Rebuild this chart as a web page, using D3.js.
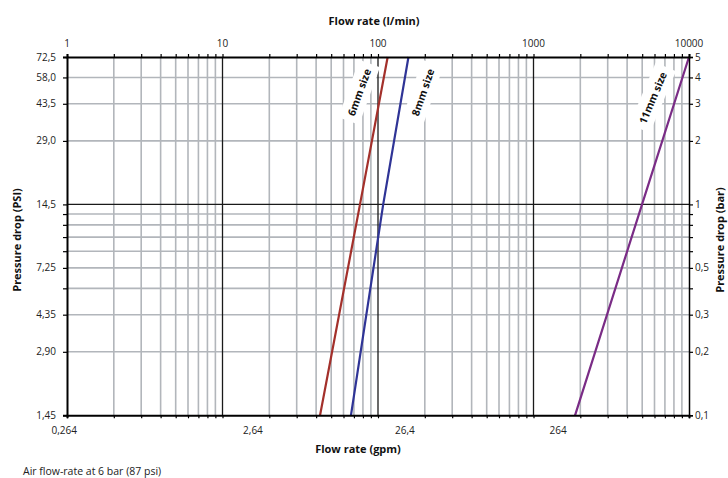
<!DOCTYPE html>
<html><head><meta charset="utf-8">
<script src="https://cdn.jsdelivr.net/npm/d3@7"></script>
<style>
html,body{margin:0;padding:0;background:#fff;}
svg{display:block;font-family:"Open Sans","Noto Sans",sans-serif;}
</style></head>
<body>
<svg id="chart" width="728" height="478"></svg>
<script>
// ---- data ----
const flowDecades = [1, 10, 100, 1000, 10000];          // l/min (top axis)
const flowDecadeLabels = ["1", "10", "100", "1000", "10000"];
const gpmLabelAt = [0.96, 15.7, 149, 1440];             // l/min where gpm labels sit
const gpmLabels = ["0,264", "2,64", "26,4", "264"];
const barTicks = [5, 4, 3, 2, 1, 0.5, 0.3, 0.2, 0.1];
const barLabels = ["5", "4", "3", "2", "1", "0,5", "0,3", "0,2", "0,1"];
const psiLabels = ["72,5", "58,0", "43,5", "29,0", "14,5", "7,25", "4,35", "2,90", "1,45"];
const barGrid = [4, 3, 2, 0.9, 0.8, 0.7, 0.6, 0.5, 0.4, 0.3, 0.2];
const seriesNames = ["6mm size", "8mm size", "11mm size"];
const seriesPressure = [0.1, 1, 5];                     // bar
const flow6mm = [42.4, 76.6, 115.4];                    // l/min
const flow8mm = [67, 108, 157];
const flow11mm = [1850, 4990, 10000];
const labelFlow = [76, 195, 5870];                      // label anchors (l/min)
const labelBar = [3.4, 3.4, 3.2];                       // label anchors (bar)
const labelAngle = [-70, -71, -67];
const seriesColors = ["#a3302b", "#2f3496", "#7a2c86"];

// ---- layout ----
const svg = d3.select("#chart");
const x = d3.scaleLog().domain([1, 10000]).range([67, 689]);
const y = d3.scaleLog().domain([0.1, 5]).range([415.3, 57]);
const gray = "#b2b6bb";

const minorX = [];
for (let d = 1; d < 10000; d *= 10) for (let m = 2; m <= 9; m++) minorX.push(d * m);

const grid = svg.append("g");
grid.selectAll(".vx").data(minorX).enter().append("line")
  .attr("x1", d => x(d)).attr("x2", d => x(d))
  .attr("y1", y(5)).attr("y2", y(0.1))
  .attr("stroke", gray).attr("stroke-width", 1.6);
grid.selectAll(".hy").data(barGrid).enter().append("line")
  .attr("x1", x(1)).attr("x2", x(10000))
  .attr("y1", d => y(d)).attr("y2", d => y(d))
  .attr("stroke", gray).attr("stroke-width", 1.6);

grid.selectAll(".dx").data([10, 100, 1000]).enter().append("line")
  .attr("x1", d => x(d)).attr("x2", d => x(d))
  .attr("y1", y(5)).attr("y2", y(0.1))
  .attr("stroke", "#1a1a1a").attr("stroke-width", 1.3);
grid.append("line")
  .attr("x1", x(1)).attr("x2", x(10000))
  .attr("y1", y(1)).attr("y2", y(1))
  .attr("stroke", "#1a1a1a").attr("stroke-width", 1.3);

// label backgrounds + labels
const labG = svg.append("g");
seriesNames.forEach((name, i) => {
  const g = labG.append("g")
    .attr("transform", `translate(${x(labelFlow[i])},${y(labelBar[i])}) rotate(${labelAngle[i]})`);
  const t = g.append("text")
    .attr("text-anchor", "middle").attr("dy", "0.35em")
    .attr("font-size", 10.5).attr("font-weight", "bold")
    .attr("fill", "#111").text(name);
  const bb = t.node().getBBox();
  g.insert("rect", "text")
    .attr("x", bb.x - 6).attr("y", bb.y - 4)
    .attr("width", bb.width + 12).attr("height", bb.height + 8)
    .attr("fill", "#fff");
});

// series lines
const line = d3.line().x(d => x(d[0])).y(d => y(d[1]));
[flow6mm, flow8mm, flow11mm].forEach((fl, i) => {
  svg.append("path")
    .datum(fl.map((f, j) => [f, seriesPressure[j]]))
    .attr("d", line).attr("fill", "none")
    .attr("stroke", seriesColors[i]).attr("stroke-width", 2.2);
});

// axes
const allX = flowDecades.concat(minorX).sort((a, b) => a - b);
const allY = barTicks.concat([0.9, 0.8, 0.7, 0.6, 0.4]);
function styleAxis(g, w) {
  g.select(".domain").attr("stroke", "#000").attr("stroke-width", w);
  g.selectAll(".tick line").attr("stroke", "#000").attr("stroke-width", 1.2);
}
svg.append("g").attr("transform", `translate(0,${y(5)})`)
  .call(d3.axisTop(x).tickValues(allX).tickSize(3).tickFormat("")).call(g => styleAxis(g, 2));
svg.append("g").attr("transform", `translate(0,${y(0.1)})`)
  .call(d3.axisBottom(x).tickValues(allX).tickSize(3).tickFormat("")).call(g => styleAxis(g, 2));
svg.append("g").attr("transform", `translate(${x(1)},0)`)
  .call(d3.axisLeft(y).tickValues(allY).tickSize(4).tickFormat("")).call(g => styleAxis(g, 2));
svg.append("g").attr("transform", `translate(${x(10000)},0)`)
  .call(d3.axisRight(y).tickValues(allY).tickSize(4).tickFormat("")).call(g => styleAxis(g, 1.5));

// tick labels
const tf = 10;
svg.append("g").selectAll("text").data(flowDecades).enter().append("text")
  .attr("x", d => x(d)).attr("y", 47).attr("text-anchor", "middle")
  .attr("font-size", tf).attr("fill", "#222").text((d, i) => flowDecadeLabels[i]);
svg.append("g").selectAll("text").data(gpmLabelAt).enter().append("text")
  .attr("x", d => x(d)).attr("y", 434).attr("text-anchor", "middle")
  .attr("font-size", tf).attr("fill", "#222").text((d, i) => gpmLabels[i]);
svg.append("g").selectAll("text").data(barTicks).enter().append("text")
  .attr("x", 56).attr("y", d => y(d)).attr("dy", "0.35em").attr("text-anchor", "end")
  .attr("font-size", tf).attr("fill", "#222").text((d, i) => psiLabels[i]);
svg.append("g").selectAll("text").data(barTicks).enter().append("text")
  .attr("x", 695).attr("y", d => y(d)).attr("dy", "0.35em").attr("text-anchor", "start")
  .attr("font-size", tf).attr("fill", "#222").text((d, i) => barLabels[i]);

// titles
svg.append("text").attr("x", 374).attr("y", 25).attr("text-anchor", "middle")
  .attr("font-size", 11).attr("font-weight", "bold").attr("fill", "#111").text("Flow rate (l/min)");
svg.append("text").attr("x", 358).attr("y", 453).attr("text-anchor", "middle")
  .attr("font-size", 11).attr("font-weight", "bold").attr("fill", "#111").text("Flow rate (gpm)");
svg.append("text").attr("transform", "translate(21,240) rotate(-90)").attr("text-anchor", "middle")
  .attr("font-size", 11).attr("font-weight", "bold").attr("fill", "#111").text("Pressure drop (PSI)");
svg.append("text").attr("transform", "translate(724,240) rotate(-90)").attr("text-anchor", "middle")
  .attr("font-size", 11).attr("font-weight", "bold").attr("fill", "#111").text("Pressure drop (bar)");
svg.append("text").attr("x", 23).attr("y", 475)
  .attr("font-size", 10.5).attr("fill", "#222").text("Air flow-rate at 6 bar (87 psi)");
</script>
</body></html>
